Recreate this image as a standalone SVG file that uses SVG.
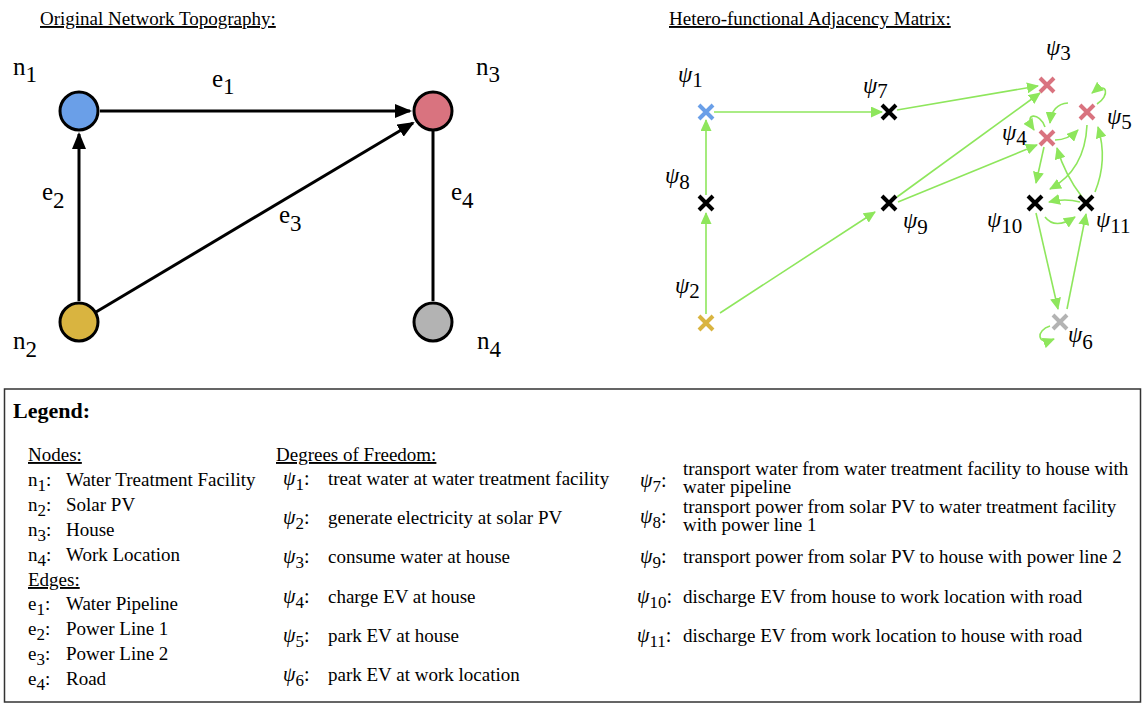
<svg xmlns="http://www.w3.org/2000/svg" width="1145" height="704" viewBox="0 0 1145 704">
<style>
text{font-family:"Liberation Serif","Times New Roman",serif;fill:#000}
.t{font-size:19px;text-decoration:underline}
.gl{font-size:25px}
.ps{font-size:23px;font-style:italic}
.lg{font-size:19px}
.lp{font-size:20px;font-style:italic}
.edge{stroke:#000;stroke-width:3;fill:none}
.g{stroke:#8ee65c;stroke-width:1.6;fill:none;marker-end:url(#ga)}
.nd{stroke:#000;stroke-width:3}
.x{stroke-width:4;stroke-linecap:butt;fill:none}
</style>
<defs>
<marker id="ba" markerUnits="userSpaceOnUse" markerWidth="17" markerHeight="14" refX="15" refY="7" orient="auto"><path d="M0,0 L17,7 L0,14 z" fill="#000"/></marker>
<marker id="ga" markerUnits="userSpaceOnUse" markerWidth="12" markerHeight="11" refX="11" refY="5.5" orient="auto"><path d="M0,0 L12,5.5 L0,11 z" fill="#8ee65c"/></marker>
</defs>
<rect width="1145" height="704" fill="#fff"/>
<text class="t" x="40" y="25">Original Network Topography:</text>
<text class="t" x="669" y="25">Hetero-functional Adjacency Matrix:</text>

<g id="left-connectors">
<line class="edge" x1="100" y1="111" x2="410" y2="111" marker-end="url(#ba)"/>
<line class="edge" x1="79" y1="301" x2="79" y2="134" marker-end="url(#ba)"/>
<line class="edge" x1="96" y1="312" x2="413" y2="123" marker-end="url(#ba)"/>
<line class="edge" x1="433" y1="301" x2="433" y2="131"/>
<text class="gl" x="212" y="87">e<tspan dy="7" font-size="23">1</tspan></text>
<text class="gl" x="42" y="200">e<tspan dy="8" font-size="23">2</tspan></text>
<text class="gl" x="279" y="223">e<tspan dy="8" font-size="23">3</tspan></text>
<text class="gl" x="451" y="200">e<tspan dy="8" font-size="23">4</tspan></text>
</g>
<g id="n1"><circle class="nd" cx="79" cy="111" r="19" fill="#6a9fe8"/><text class="gl" x="13" y="75">n<tspan dy="7" font-size="23">1</tspan></text></g>
<g id="n3"><circle class="nd" cx="433" cy="111" r="19" fill="#d9737f"/><text class="gl" x="476" y="75">n<tspan dy="7" font-size="23">3</tspan></text></g>
<g id="n2"><circle class="nd" cx="79" cy="322" r="19" fill="#d9b440"/><text class="gl" x="13" y="349">n<tspan dy="8" font-size="23">2</tspan></text></g>
<g id="n4"><circle class="nd" cx="433" cy="322" r="19" fill="#b3b3b3"/><text class="gl" x="477" y="349">n<tspan dy="8" font-size="23">4</tspan></text></g>

<g id="right-connectors">
<path class="g" d="M714,112 L882,112"/>
<path class="g" d="M706,195 L706,120"/>
<path class="g" d="M706,314 L706,213"/>
<path class="g" d="M720,313 L875,212"/>
<path class="g" d="M897,110 L1038,86"/>
<path class="g" d="M897,197 L1040,93"/>
<path class="g" d="M898,202 L1037,145"/>
<path class="g" d="M1055,140 Q1068,140 1078,130"/>
<path class="g" d="M1068,103 Q1052,104 1050,123"/>
<path class="g" d="M1097,104 C1110,96 1108,80 1092,93"/>
<path class="g" d="M1045,127 C1040,112 1022,112 1034,130"/>
<path class="g" d="M1044,147 L1036,183"/>
<path class="g" d="M1087,125 Q1085,170 1050,189"/>
<path class="g" d="M1082,197 Q1065,175 1057,148"/>
<path class="g" d="M1095,192 Q1108,160 1098,127"/>
<path class="g" d="M1080,202 Q1065,198 1049,202"/>
<path class="g" d="M1045,217 Q1055,230 1075,217"/>
<path class="g" d="M1036,213 L1058,309"/>
<path class="g" d="M1067,309 L1086,214"/>
<path class="g" d="M1050,326 C1036,330 1036,346 1054,339"/>
</g>
<g id="psi1"><path class="x" stroke="#6a9fe8" d="M699,105 L713,119 M713,105 L699,119"/><text class="ps" x="678" y="82">ψ<tspan dy="5" font-size="21" font-style="normal">1</tspan></text></g>
<g id="psi7"><path class="x" stroke="#000" d="M882,105 L896,119 M896,105 L882,119"/><text class="ps" x="863" y="93">ψ<tspan dy="5" font-size="21" font-style="normal">7</tspan></text></g>
<g id="psi8"><path class="x" stroke="#000" d="M699,196 L713,210 M713,196 L699,210"/><text class="ps" x="665" y="183">ψ<tspan dy="6" font-size="21" font-style="normal">8</tspan></text></g>
<g id="psi9"><path class="x" stroke="#000" d="M882,196 L896,210 M896,196 L882,210"/><text class="ps" x="903" y="228">ψ<tspan dy="6" font-size="21" font-style="normal">9</tspan></text></g>
<g id="psi2"><path class="x" stroke="#d9b440" d="M699,316 L713,330 M713,316 L699,330"/><text class="ps" x="675" y="293">ψ<tspan dy="5" font-size="21" font-style="normal">2</tspan></text></g>
<g id="psi3"><path class="x" stroke="#d9737f" d="M1040,78 L1054,92 M1054,78 L1040,92"/><text class="ps" x="1046" y="55">ψ<tspan dy="5" font-size="21" font-style="normal">3</tspan></text></g>
<g id="psi5"><path class="x" stroke="#d9737f" d="M1080,105 L1094,119 M1094,105 L1080,119"/><text class="ps" x="1107" y="124">ψ<tspan dy="5" font-size="21" font-style="normal">5</tspan></text></g>
<g id="psi4"><path class="x" stroke="#d9737f" d="M1040,131 L1054,145 M1054,131 L1040,145"/><text class="ps" x="1002" y="140">ψ<tspan dy="5" font-size="21" font-style="normal">4</tspan></text></g>
<g id="psi10"><path class="x" stroke="#000" d="M1028,196 L1042,210 M1042,196 L1028,210"/><text class="ps" x="987" y="227">ψ<tspan dy="6" font-size="21" font-style="normal">10</tspan></text></g>
<g id="psi11"><path class="x" stroke="#000" d="M1079,196 L1093,210 M1093,196 L1079,210"/><text class="ps" x="1096" y="227">ψ<tspan dy="6" font-size="21" font-style="normal">11</tspan></text></g>
<g id="psi6"><path class="x" stroke="#b3b3b3" d="M1053,315 L1067,329 M1067,315 L1053,329"/><text class="ps" x="1068" y="342">ψ<tspan dy="7" font-size="21" font-style="normal">6</tspan></text></g>

<g id="legend">
<rect x="4.5" y="389" width="1136" height="313" fill="none" stroke="#333" stroke-width="1.5"/>
<text x="13" y="418" font-size="22" font-weight="bold">Legend:</text>
<text class="lg" x="28" y="461" text-decoration="underline">Nodes:</text>
<text class="lg" x="28" y="486">n<tspan dy="5" font-size="17">1</tspan><tspan dy="-5">:</tspan></text><text class="lg" x="66" y="486">Water Treatment Facility</text>
<text class="lg" x="28" y="511">n<tspan dy="5" font-size="17">2</tspan><tspan dy="-5">:</tspan></text><text class="lg" x="66" y="511">Solar PV</text>
<text class="lg" x="28" y="536">n<tspan dy="5" font-size="17">3</tspan><tspan dy="-5">:</tspan></text><text class="lg" x="66" y="536">House</text>
<text class="lg" x="28" y="561">n<tspan dy="5" font-size="17">4</tspan><tspan dy="-5">:</tspan></text><text class="lg" x="66" y="561">Work Location</text>
<text class="lg" x="28" y="586" text-decoration="underline">Edges:</text>
<text class="lg" x="28" y="610">e<tspan dy="5" font-size="17">1</tspan><tspan dy="-5">:</tspan></text><text class="lg" x="66" y="610">Water Pipeline</text>
<text class="lg" x="28" y="635">e<tspan dy="5" font-size="17">2</tspan><tspan dy="-5">:</tspan></text><text class="lg" x="66" y="635">Power Line 1</text>
<text class="lg" x="28" y="660">e<tspan dy="5" font-size="17">3</tspan><tspan dy="-5">:</tspan></text><text class="lg" x="66" y="660">Power Line 2</text>
<text class="lg" x="28" y="685">e<tspan dy="5" font-size="17">4</tspan><tspan dy="-5">:</tspan></text><text class="lg" x="66" y="685">Road</text>

<text class="lg" x="276" y="461" text-decoration="underline">Degrees of Freedom:</text>
<text class="lp" x="283" y="485">ψ<tspan dy="5" font-size="17" font-style="normal">1</tspan><tspan dy="-5" font-style="normal">:</tspan></text><text class="lg" x="328" y="485">treat water at water treatment facility</text>
<text class="lp" x="283" y="524">ψ<tspan dy="5" font-size="17" font-style="normal">2</tspan><tspan dy="-5" font-style="normal">:</tspan></text><text class="lg" x="328" y="524">generate electricity at solar PV</text>
<text class="lp" x="283" y="563">ψ<tspan dy="5" font-size="17" font-style="normal">3</tspan><tspan dy="-5" font-style="normal">:</tspan></text><text class="lg" x="328" y="563">consume water at house</text>
<text class="lp" x="283" y="603">ψ<tspan dy="5" font-size="17" font-style="normal">4</tspan><tspan dy="-5" font-style="normal">:</tspan></text><text class="lg" x="328" y="603">charge EV at house</text>
<text class="lp" x="283" y="642">ψ<tspan dy="5" font-size="17" font-style="normal">5</tspan><tspan dy="-5" font-style="normal">:</tspan></text><text class="lg" x="328" y="642">park EV at house</text>
<text class="lp" x="283" y="681">ψ<tspan dy="5" font-size="17" font-style="normal">6</tspan><tspan dy="-5" font-style="normal">:</tspan></text><text class="lg" x="328" y="681">park EV at work location</text>

<text class="lp" x="640" y="487">ψ<tspan dy="5" font-size="17" font-style="normal">7</tspan><tspan dy="-5" font-style="normal">:</tspan></text>
<text class="lg" x="683" y="475">transport water from water treatment facility to house with</text>
<text class="lg" x="683" y="493">water pipeline</text>
<text class="lp" x="640" y="523">ψ<tspan dy="5" font-size="17" font-style="normal">8</tspan><tspan dy="-5" font-style="normal">:</tspan></text>
<text class="lg" x="683" y="513">transport power from solar PV to water treatment facility</text>
<text class="lg" x="683" y="531">with power line 1</text>
<text class="lp" x="640" y="563">ψ<tspan dy="5" font-size="17" font-style="normal">9</tspan><tspan dy="-5" font-style="normal">:</tspan></text><text class="lg" x="683" y="563">transport power from solar PV to house with power line 2</text>
<text class="lp" x="637" y="603">ψ<tspan dy="5" font-size="17" font-style="normal">10</tspan><tspan dy="-5" font-style="normal">:</tspan></text><text class="lg" x="683" y="603">discharge EV from house to work location with road</text>
<text class="lp" x="637" y="642">ψ<tspan dy="5" font-size="17" font-style="normal">11</tspan><tspan dy="-5" font-style="normal">:</tspan></text><text class="lg" x="683" y="642">discharge EV from work location to house with road</text>
</g>
</svg>
